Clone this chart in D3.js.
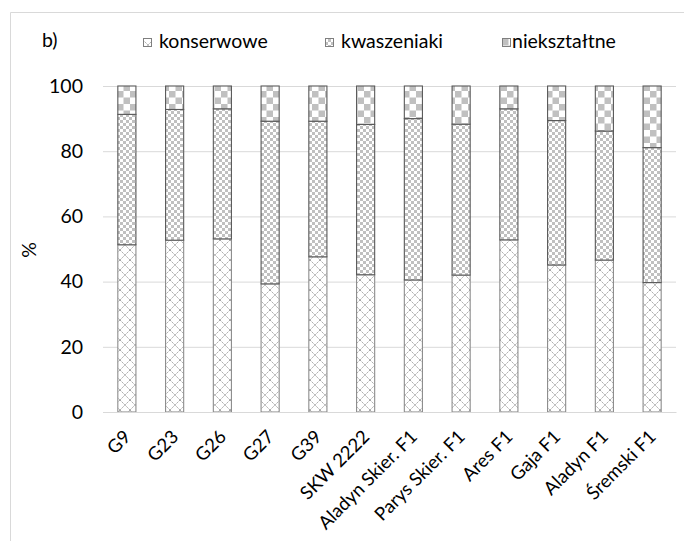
<!DOCTYPE html>
<html lang="pl">
<head>
<meta charset="utf-8">
<script src="https://cdn.jsdelivr.net/npm/d3@7/dist/d3.min.js"></script>
<style>
  html, body { margin: 0; padding: 0; background: #fff; }
  svg { display: block; }
  text { font-family: Lato, "Open Sans", sans-serif; fill: #000; }
</style>
</head>
<body>
<svg id="chart" width="684" height="541"></svg>
<script>
// Udział frakcji owoców (%) dla poszczególnych odmian
const categories = ["G9", "G23", "G26", "G27", "G39", "SKW 2222", "Aladyn Skier. F1",
  "Parys Skier. F1", "Ares F1", "Gaja F1", "Aladyn F1", "Śremski F1"];
const konserwowe  = [51.3, 52.7, 53.1, 39.3, 47.6, 42.1, 40.5, 42.0, 52.8, 45.1, 46.6, 39.7];
const kwaszeniaki = [40.0, 40.1, 39.9, 49.9, 41.6, 46.1, 49.5, 46.3, 40.2, 44.3, 39.6, 41.4];
const nieksztaltne = [8.7, 7.2, 7.0, 10.8, 10.8, 11.8, 10.0, 11.7, 7.0, 10.6, 13.8, 18.9];
const seriesNames = ["konserwowe", "kwaszeniaki", "niekształtne"];
const yTicks = [0, 20, 40, 60, 80, 100];
const panelLabel = "b)";
const yLabel = "%";

const rows = categories.map((c, i) => ({
  cat: c,
  konserwowe: konserwowe[i],
  kwaszeniaki: kwaszeniaki[i],
  "niekształtne": nieksztaltne[i]
}));

const svg = d3.select("#chart");
const W = 684, H = 541;
const plot = { left: 103, right: 676, top: 86, bottom: 412 };
const fontSize = 19.5;

// ---- fill patterns ----
const defs = svg.append("defs");

// konserwowe: dotted diagonal lattice (diamonds)
const p1 = defs.append("pattern").attr("id", "pat-kons")
  .attr("patternUnits", "userSpaceOnUse").attr("width", 10).attr("height", 10);
p1.append("rect").attr("width", 10).attr("height", 10).attr("fill", "#fff");
p1.append("path").attr("d", "M0,0L10,10M10,0L0,10")
  .attr("stroke", "#a8a8a8").attr("stroke-width", 1).attr("stroke-dasharray", "2,1");

// kwaszeniaki: small checkerboard
const p2 = defs.append("pattern").attr("id", "pat-kwas")
  .attr("patternUnits", "userSpaceOnUse").attr("width", 6).attr("height", 6);
p2.append("rect").attr("width", 6).attr("height", 6).attr("fill", "#fff");
p2.append("rect").attr("width", 3).attr("height", 3).attr("fill", "#c0c0c0");
p2.append("rect").attr("x", 3).attr("y", 3).attr("width", 3).attr("height", 3).attr("fill", "#c0c0c0");

// niekształtne: large checkerboard
const p3 = defs.append("pattern").attr("id", "pat-niek")
  .attr("patternUnits", "userSpaceOnUse").attr("width", 13).attr("height", 13);
p3.append("rect").attr("width", 13).attr("height", 13).attr("fill", "#fff");
p3.append("rect").attr("width", 6.5).attr("height", 6.5).attr("fill", "#c0c0c0");
p3.append("rect").attr("x", 6.5).attr("y", 6.5).attr("width", 6.5).attr("height", 6.5).attr("fill", "#c0c0c0");

const fills = { "konserwowe": "url(#pat-kons)", "kwaszeniaki": "url(#pat-kwas)", "niekształtne": "url(#pat-niek)" };
const strokes = { "konserwowe": "#8c8c8c", "kwaszeniaki": "#595959", "niekształtne": "#595959" };

// ---- chart frame ----
svg.append("path")
  .attr("d", `M10.5,${H}V12.5H${W}`)
  .attr("fill", "none").attr("stroke", "#d9d9d9").attr("stroke-width", 1);

// ---- scales ----
const x = d3.scaleBand().domain(categories)
  .range([plot.left, plot.right]).paddingInner(0.6).paddingOuter(0.3);
const y = d3.scaleLinear().domain([0, 100]).range([plot.bottom, plot.top]);

// ---- y axis with gridlines ----
const yAxis = svg.append("g").attr("transform", `translate(${plot.left},0)`)
  .call(d3.axisLeft(y).tickValues(yTicks).tickSizeInner(-(plot.right - plot.left))
    .tickSizeOuter(0).tickPadding(20));
yAxis.select(".domain").remove();
yAxis.selectAll(".tick line").attr("stroke", "#d9d9d9").attr("stroke-width", 1);
yAxis.selectAll(".tick text").style("font-size", fontSize + "px")
  .style("font-family", "Lato, sans-serif").attr("fill", "#000");

// ---- stacked bars ----
const stack = d3.stack().keys(seriesNames)(rows);
const layers = svg.append("g").selectAll("g").data(stack).join("g")
  .attr("fill", d => fills[d.key]).attr("stroke", d => strokes[d.key]);
layers.selectAll("rect").data(d => d).join("rect")
  .attr("x", d => x(d.data.cat) + 0.5)
  .attr("y", d => y(d[1]))
  .attr("width", x.bandwidth() - 1)
  .attr("height", d => y(d[0]) - y(d[1]))
  .attr("stroke-width", 1.1);

// ---- x axis ----
const xAxis = svg.append("g").attr("transform", `translate(0,${plot.bottom})`)
  .call(d3.axisBottom(x).tickSize(0).tickSizeOuter(0).tickPadding(0));
xAxis.select(".domain").attr("stroke", "#d9d9d9").attr("stroke-width", 1);
xAxis.selectAll(".tick text")
  .style("font-size", "18.5px").style("font-family", "Lato, sans-serif")
  .attr("fill", "#000")
  .attr("text-anchor", "end")
  .attr("dy", null)
  .attr("y", null)
  .attr("transform", "translate(5,26) rotate(-45)");

// ---- axis title ----
svg.append("text")
  .attr("transform", "translate(36,250) rotate(-90)")
  .attr("text-anchor", "middle")
  .style("font-size", fontSize + "px")
  .text(yLabel);

// ---- panel label ----
svg.append("text").attr("x", 42).attr("y", 47)
  .style("font-size", fontSize + "px").text(panelLabel);

// ---- legend ----
const legendX = [143, 325, 502];
const legendGap = [16, 16, 10];
const legend = svg.append("g").selectAll("g").data(seriesNames).join("g")
  .attr("transform", (d, i) => `translate(${legendX[i]},0)`);
legend.append("rect")
  .attr("x", 0.5).attr("y", 38.5).attr("width", 8).attr("height", 8)
  .attr("fill", d => fills[d]).attr("stroke", "#7f7f7f").attr("stroke-width", 1);
legend.append("text")
  .attr("x", (d, i) => legendGap[i]).attr("y", 48)
  .style("font-size", fontSize + "px")
  .text(d => d);
</script>
</body>
</html>
